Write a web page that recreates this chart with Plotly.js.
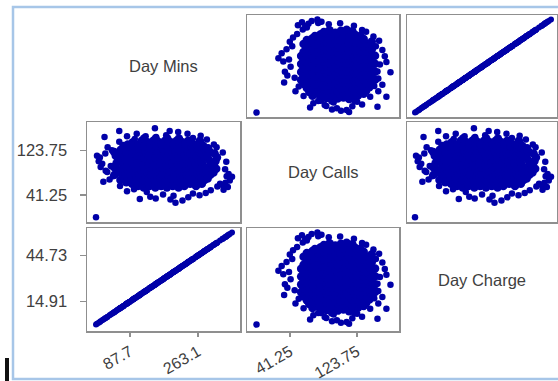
<!DOCTYPE html>
<html>
<head>
<meta charset="utf-8">
<script src="https://cdn.plot.ly/plotly-3.0.1.min.js"></script>
<style>html,body{margin:0;padding:0;background:#fff;overflow:hidden}</style>
</head>
<body>
<div id="chart" style="width:558px;height:381px"></div>
<script>
// Variables of the scatterplot matrix, in diagonal order
const varNames = ['Day Mins', 'Day Calls', 'Day Charge'];

// One entry per customer; the first CORE_COUNT entries sit in the dense centre of the cloud
const dayCalls = [
  79,86,93,100,107,114,121,
  69,76,83,90,97,104,111,118,125,132,
  65,72,79,86,93,100,107,114,121,128,135,
  62,69,76,83,90,97,104,111,118,125,132,139,
  58,65,72,79,86,93,100,107,114,121,128,135,142,
  55,62,69,76,83,90,97,104,111,118,125,132,139,146,
  58,65,72,79,86,93,100,107,114,121,128,135,142,
  55,62,69,76,83,90,97,104,111,118,125,132,139,146,
  58,65,72,79,86,93,100,107,114,121,128,135,142,
  55,62,69,76,83,90,97,104,111,118,125,132,139,146,
  58,65,72,79,86,93,100,107,114,121,128,135,142,
  55,62,69,76,83,90,97,104,111,118,125,132,139,146,
  58,65,72,79,86,93,100,107,114,121,128,135,142,
  62,69,76,83,90,97,104,111,118,125,132,139,
  58,65,72,79,86,93,100,107,114,121,128,135,142,
  62,69,76,83,90,97,104,111,118,125,132,
  72,79,86,93,100,107,114,121,128,
  83,90,97,104,111,118,
  0,51,57,64,68,75,80,45,41,31,27,37,33,42,35,47,52,66,76,86,99,111,124,149,160,165,
  158,155,144,135,120,103,89,114,104,93,84,34,38,62,56,76,130,151,155,140,58,48,150,
  70,130,50,60,152,150,95,118,147,44,160,40,149,145
];
const dayMins = [
  48,55,46,53,57,51,47,
  63,70,61,68,72,66,62,69,64,71,
  78,85,76,83,87,81,77,84,79,86,82,
  93,100,91,98,102,96,92,99,94,101,97,95,
  108,115,106,113,117,111,107,114,109,116,112,110,118,
  123,130,121,128,132,126,122,129,124,131,127,125,133,124,
  138,145,136,143,147,141,137,144,139,146,142,140,148,
  153,160,151,158,162,156,152,159,154,161,157,155,163,154,
  168,175,166,173,177,171,167,174,169,176,172,170,178,
  183,190,181,188,192,186,182,189,184,191,187,185,193,184,
  198,205,196,203,207,201,197,204,199,206,202,200,208,
  213,220,211,218,222,216,212,219,214,221,217,215,223,214,
  228,235,226,233,237,231,227,234,229,236,232,230,238,
  243,250,241,248,252,246,242,249,244,251,247,245,
  258,265,256,263,267,261,257,264,259,266,262,260,268,
  273,280,271,278,282,276,272,279,274,281,277,
  288,295,286,293,297,291,287,294,289,
  303,310,301,308,312,306,
  0,329,313,334,345,350.8,342,283,267,223,205,238,192,173,154,131,98,19,44,25,16,10,41,22,60,152,
  212,236,286,304,327,336,333,2.6,7,12,29,113,140,320,340,337,311,270,105,60,62,80,80,
  35,30,296,326,181,128,38,24,250,250,190,200,155,100
];
const dayCharge = [
  8.16,9.35,7.82,9.01,9.69,8.67,7.99,
  10.71,11.90,10.37,11.56,12.24,11.22,10.54,11.73,10.88,12.07,
  13.26,14.45,12.92,14.11,14.79,13.77,13.09,14.28,13.43,14.62,13.94,
  15.81,17.00,15.47,16.66,17.34,16.32,15.64,16.83,15.98,17.17,16.49,16.15,
  18.36,19.55,18.02,19.21,19.89,18.87,18.19,19.38,18.53,19.72,19.04,18.70,20.06,
  20.91,22.10,20.57,21.76,22.44,21.42,20.74,21.93,21.08,22.27,21.59,21.25,22.61,21.08,
  23.46,24.65,23.12,24.31,24.99,23.97,23.29,24.48,23.63,24.82,24.14,23.80,25.16,
  26.01,27.20,25.67,26.86,27.54,26.52,25.84,27.03,26.18,27.37,26.69,26.35,27.71,26.18,
  28.56,29.75,28.22,29.41,30.09,29.07,28.39,29.58,28.73,29.92,29.24,28.90,30.26,
  31.11,32.30,30.77,31.96,32.64,31.62,30.94,32.13,31.28,32.47,31.79,31.45,32.81,31.28,
  33.66,34.85,33.32,34.51,35.19,34.17,33.49,34.68,33.83,35.02,34.34,34.00,35.36,
  36.21,37.40,35.87,37.06,37.74,36.72,36.04,37.23,36.38,37.57,36.89,36.55,37.91,36.38,
  38.76,39.95,38.42,39.61,40.29,39.27,38.59,39.78,38.93,40.12,39.44,39.10,40.46,
  41.31,42.50,40.97,42.16,42.84,41.82,41.14,42.33,41.48,42.67,41.99,41.65,
  43.86,45.05,43.52,44.71,45.39,44.37,43.69,44.88,44.03,45.22,44.54,44.20,45.56,
  46.41,47.60,46.07,47.26,47.94,46.92,46.24,47.43,46.58,47.77,47.09,
  48.96,50.15,48.62,49.81,50.49,49.47,48.79,49.98,49.13,
  51.51,52.70,51.17,52.36,53.04,52.02,
  0,55.93,53.21,56.78,58.65,59.64,58.14,48.11,45.39,37.91,34.85,40.46,32.64,29.41,26.18,22.27,16.66,
  3.23,7.48,4.25,2.72,1.70,6.97,3.74,10.20,25.84,36.04,40.12,48.62,51.68,55.59,57.12,56.61,
  0.44,1.19,2.04,4.93,19.21,23.80,54.40,57.80,57.29,52.87,45.90,17.85,10.20,10.54,13.60,13.60,
  5.95,5.10,50.32,55.42,30.77,21.76,6.46,4.08,42.50,42.50,32.30,34.00,26.35,17.00
];
const CORE_COUNT = 212;

// Tick positions and their labels for each variable
const minsTicks = [87.7, 263.1];
const minsTickText = ['87.7', '263.1'];
const callsTicks = [41.25, 123.75];
const callsTickText = ['41.25', '123.75'];
const chargeTicks = [14.91, 44.73];
const chargeTickText = ['14.91', '44.73'];

const series = [dayMins, dayCalls, dayCharge];
const tickVals = [minsTicks, callsTicks, chargeTicks];
const tickTexts = [minsTickText, callsTickText, chargeTickText];

// Page geometry (pixels)
const W = 558, H = 381;
const colPx = [[87, 240], [247, 399], [407, 557]];
const rowPx = [[15, 117], [122, 222], [228, 331]];
// Axis ranges per variable when used horizontally / vertically
const xRanges = [[-23.2, 371.4], [-11.7, 175.5], [-3.51, 62.27]];
const yRanges = [[-16.6, 367.4], [-8.8, 176.6], [-4.2, 62.56]];

const FONT = 'Liberation Sans, Arial, sans-serif';
const TEXT_COL = '#404040';
const FRAME_COL = '#8f8f8f';
const DOT_COL = '#0000a8';
const LABEL_SIZE = 16.5;

// In the clouds the dense centre points are drawn a little larger so the cloud reads as solid;
// the Mins/Charge panels fall on a single line and use one uniform dot size
const cloudSizes = dayMins.map((_, k) => (k < CORE_COUNT ? 8.5 : 6.5));
const LINE_DOT = 6;

const xDom = c => [colPx[c][0] / W, colPx[c][1] / W];
const yDom = r => [1 - rowPx[r][1] / H, 1 - rowPx[r][0] / H];

const data = [];
const layout = {
  width: W, height: H,
  margin: {l: 0, r: 0, t: 0, b: 0},
  paper_bgcolor: '#ffffff',
  plot_bgcolor: '#ffffff',
  showlegend: false,
  font: {family: FONT, size: LABEL_SIZE, color: TEXT_COL},
  annotations: [],
  shapes: []
};

for (let r = 0; r < 3; r++) {
  for (let c = 0; c < 3; c++) {
    const i = r * 3 + c + 1;
    const sfx = i === 1 ? '' : String(i);
    const xa = {
      domain: xDom(c), range: xRanges[c], anchor: 'y' + sfx,
      showgrid: false, zeroline: false, showline: false,
      ticks: '', showticklabels: false, fixedrange: true
    };
    const ya = {
      domain: yDom(r), range: yRanges[r], anchor: 'x' + sfx,
      showgrid: false, zeroline: false, showline: false,
      ticks: '', showticklabels: false, fixedrange: true
    };
    if (r !== c) {
      Object.assign(xa, {showline: true, mirror: true, linecolor: FRAME_COL, linewidth: 1.5});
      Object.assign(ya, {showline: true, mirror: true, linecolor: FRAME_COL, linewidth: 1.5});
      const onLine = (r !== 1 && c !== 1);
      data.push({
        type: 'scatter', mode: 'markers',
        x: series[c], y: series[r],
        xaxis: 'x' + sfx, yaxis: 'y' + sfx,
        marker: {color: DOT_COL, size: onLine ? LINE_DOT : cloudSizes, opacity: 1, line: {width: 0}},
        hoverinfo: 'skip'
      });
    } else {
      layout.annotations.push({
        xref: 'paper', yref: 'paper',
        x: (xDom(c)[0] + xDom(c)[1]) / 2,
        y: (yDom(r)[0] + yDom(r)[1]) / 2,
        xanchor: 'center', yanchor: 'middle',
        text: varNames[r], showarrow: false,
        font: {family: FONT, size: LABEL_SIZE, color: TEXT_COL}
      });
      if (r === 0) Object.assign(ya, {showline: true, linecolor: FRAME_COL, linewidth: 1.5});
      if (r === 2) Object.assign(xa, {showline: true, linecolor: FRAME_COL, linewidth: 1.5});
    }
    if (c === 0) {
      Object.assign(ya, {
        ticks: 'outside', ticklen: 6, tickwidth: 1.5, tickcolor: FRAME_COL,
        tickmode: 'array', tickvals: tickVals[r], ticktext: tickTexts[r],
        showticklabels: true, ticklabelstandoff: 9,
        tickfont: {family: FONT, size: LABEL_SIZE, color: TEXT_COL}
      });
    }
    if (r === 2) {
      Object.assign(xa, {
        ticks: 'outside', ticklen: 4, tickwidth: 1.5, tickcolor: FRAME_COL,
        tickmode: 'array', tickvals: tickVals[c], ticktext: tickTexts[c],
        showticklabels: true, tickangle: -30,
        tickfont: {family: FONT, size: 16, color: TEXT_COL}
      });
    }
    layout['xaxis' + sfx] = xa;
    layout['yaxis' + sfx] = ya;
  }
}

// Light blue frame around the figure and the dark caret mark at lower left
layout.shapes.push({
  type: 'rect', xref: 'paper', yref: 'paper',
  x0: 13 / W, x1: 1.05, y0: 1 - 379 / H, y1: 1 - 7 / H,
  line: {color: '#a7c6e8', width: 2.5}, fillcolor: 'rgba(0,0,0,0)', layer: 'below'
});
layout.shapes.push({
  type: 'rect', xref: 'paper', yref: 'paper',
  x0: 5 / W, x1: 9 / W, y0: -0.01, y1: 1 - 358 / H,
  line: {width: 0}, fillcolor: '#111111'
});

Plotly.newPlot('chart', data, layout, {staticPlot: true, displayModeBar: false});
</script>
</body>
</html>
